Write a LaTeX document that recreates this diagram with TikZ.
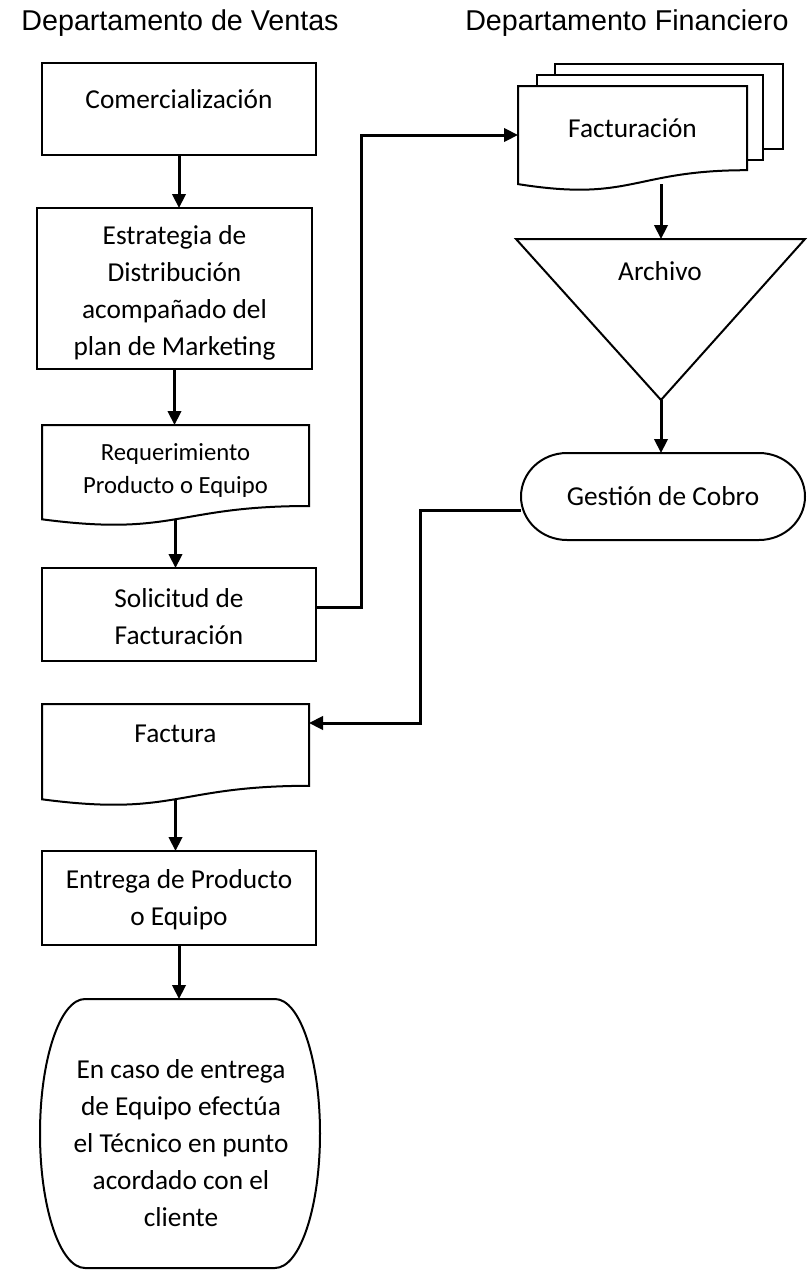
\documentclass[tikz,border=0pt]{standalone}
\usepackage{fontspec}
\setmainfont{Carlito}
\newfontfamily\headfont{Liberation Sans}
\usetikzlibrary{arrows.meta, positioning}

\begin{document}
\begin{tikzpicture}[x=0.75pt, y=-0.75pt,
    shapeline/.style={line width=1.5pt},
    stepbox/.style={shape=rectangle, draw, line width=1.5pt, inner sep=0pt, outer sep=0pt},
    ghostbox/.style={shape=rectangle, inner sep=0pt, outer sep=0pt},
    flowtext/.style={align=center, inner sep=0pt, font=\fontsize{20.5}{27.75}\selectfont},
    smalltext/.style={align=center, inner sep=0pt, font=\fontsize{18.5}{24.75}\selectfont},
    headtext/.style={inner sep=0pt, font=\headfont\fontsize{21.5}{26}\selectfont},
    flowline/.style={line width=2.25pt, -{Triangle[length=10.5pt, width=10pt]}}]
    \useasboundingbox (0,0) rectangle (807,1271);
    % Headings:
    \node[headtext] (ventas) at (180, 23.5){Departamento de Ventas};
    \node[headtext] (finanzas) at (627, 23.5){Departamento Financiero};
    % Sales column:
    \node[stepbox, minimum width=274*0.75pt, minimum height=92*0.75pt] (com) at (179, 109){};
    \node[flowtext] (comtxt) at (179, 99){Comercialización};
    \node[stepbox, minimum width=275*0.75pt, minimum height=161*0.75pt] (est) at (174.5, 288.5){};
    \node[flowtext] (esttxt) at (174.5, 293){Estrategia de\\Distribución\\acompañado del\\plan de Marketing};
    \node[ghostbox, minimum width=267*0.75pt, minimum height=94*0.75pt] (req) at (175.5, 472){};
    \draw[shapeline] (42, 425) -- (309, 425) -- (309, 506) .. controls (175.5, 506) and (175.5, 536.9) .. (42, 519.3) -- cycle;
    \node[smalltext] (reqtxt) at (175.5, 470){Requerimiento\\Producto o Equipo};
    \node[stepbox, minimum width=274*0.75pt, minimum height=93*0.75pt] (sol) at (179, 614.5){};
    \node[flowtext] (soltxt) at (179, 616.5){Solicitud de\\Facturación};
    \node[ghostbox, minimum width=267*0.75pt, minimum height=95*0.75pt] (fac) at (175.5, 751.5){};
    \draw[shapeline] (42, 704) -- (309, 704) -- (309, 785.8) .. controls (175.5, 785.8) and (175.5, 817) .. (42, 799.3) -- cycle;
    \node[flowtext] (factxt) at (175.5, 734){Factura};
    \node[stepbox, minimum width=274*0.75pt, minimum height=94*0.75pt] (ent) at (179, 898){};
    \node[flowtext] (enttxt) at (179, 899.5){Entrega de Producto\\o Equipo};
    \node[ghostbox, minimum width=280*0.75pt, minimum height=269*0.75pt] (cli) at (180, 1133.5){};
    \draw[shapeline] (85, 999) -- (275, 999) .. controls (299.9, 999) and (320, 1059.2) .. (320, 1133.5) .. controls (320, 1207.8) and (299.9, 1268) .. (275, 1268) -- (85, 1268) .. controls (60.1, 1268) and (40, 1207.8) .. (40, 1133.5) .. controls (40, 1059.2) and (60.1, 999) .. (85, 999) -- cycle;
    \node[flowtext] (clitxt) at (181, 1143){En caso de entrega\\de Equipo efectúa\\el Técnico en punto\\acordado con el\\cliente};
    % Finance column:
    \draw[shapeline, fill=white] (555, 64) rectangle (783, 149);
    \draw[shapeline, fill=white] (537, 75) rectangle (763, 160);
    \draw[shapeline, fill=white] (518, 86) -- (747, 86) -- (747, 170.2) .. controls (632.5, 170.2) and (632.5, 202.3) .. (518, 184.1) -- cycle;
    \node[ghostbox, minimum width=229*0.75pt, minimum height=98*0.75pt] (fact) at (632.5, 135){};
    \node[flowtext] (facttxt) at (632.5, 128){Facturación};
    \coordinate (archtop) at (661, 239);
    \coordinate (archtip) at (661, 400);
    \draw[shapeline] (516, 239) -- (805, 239) -- (archtip) -- cycle;
    \node[flowtext] (archtxt) at (660, 271){Archivo};
    \node[ghostbox, minimum width=284*0.75pt, minimum height=87*0.75pt] (gest) at (663, 496.5){};
    \draw[shapeline] (567, 453) -- (759, 453) .. controls (784.4, 453) and (805, 472.5) .. (805, 496.5) .. controls (805, 520.5) and (784.4, 540) .. (759, 540) -- (567, 540) .. controls (541.6, 540) and (521, 520.5) .. (521, 496.5) .. controls (521, 472.5) and (541.6, 453) .. (567, 453) -- cycle;
    \node[flowtext] (gesttxt) at (663, 496){Gestión de Cobro};
    % Connectors:
    \draw[flowline] (com.south) -- (com.south |- est.north);
    \draw[flowline] (est.south) -- (est.south |- req.north);
    \draw[flowline] (req.south) -- (req.south |- sol.north);
    \draw[flowline] (sol.east |- 0,607) -- ++(45, 0) |- (fact.west);
    \draw[flowline] (archtop |- fact.south) -- (archtop);
    \draw[flowline] (archtip) -- (archtip |- gest.north);
    \draw[flowline] (gest.west |- 0,510) -- ++(-101, 0) |- (fac.east |- 0,723);
    \draw[flowline] (fac.south) -- (fac.south |- ent.north);
    \draw[flowline] (ent.south) -- (ent.south |- cli.north);
\end{tikzpicture}
\end{document}
